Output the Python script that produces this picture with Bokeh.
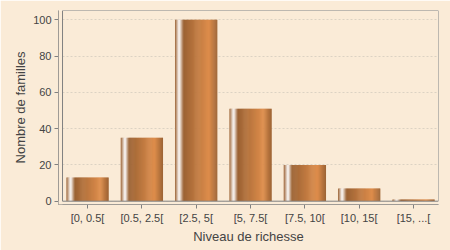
from bokeh.plotting import figure
from bokeh.models import ColumnDataSource, LinearAxis, FixedTicker, Range1d, Grid, BoxAnnotation
from bokeh.transform import dodge
from bokeh.embed import file_html
from bokeh.resources import INLINE

categories = ["[0, 0.5[", "[0.5, 2.5[", "[2.5, 5[", "[5, 7.5[", "[7.5, 10[", "[10, 15[", "[15, ...["]
families = [13, 35, 100, 51, 20, 7, 1]
y_ticks = [0, 20, 40, 60, 80, 100]

idx = list(range(len(categories)))
src = ColumnDataSource(dict(idx=idx, count=families))

BG = "#FAEBD7"
AXC = "#808080"
TXT = "#444444"
FONT = "Liberation Sans"

X0, X1 = -0.534, len(categories) - 1 + 0.46
BOX_L = -0.46
Y0, Y1 = -1.82, 105.13

p = figure(width=450, height=250, output_backend="svg", toolbar_location=None,
           x_range=Range1d(X0, X1), y_range=Range1d(Y0, Y1),
           x_axis_location=None, y_axis_location=None,
           min_border_left=58, min_border_right=12, min_border_top=10, min_border_bottom=46,
           background_fill_color=BG, border_fill_color=BG)
p.outline_line_color = None
p.center = []

grid = Grid(dimension=1, ticker=FixedTicker(ticks=y_ticks), grid_line_color="#DCD2C3",
            grid_line_dash="2 2", grid_line_width=1)
p.add_layout(grid)


def style(ax):
    ax.axis_line_color = AXC
    ax.major_tick_line_color = AXC
    ax.major_tick_in = 0
    ax.major_tick_out = 4
    ax.minor_tick_line_color = None
    ax.major_label_standoff = 3
    ax.major_label_text_font = FONT
    ax.major_label_text_font_size = "11px"
    ax.major_label_text_color = TXT
    ax.axis_label_text_font = FONT
    ax.axis_label_text_font_size = "13px"
    ax.axis_label_text_font_style = "normal"
    ax.axis_label_text_color = TXT
    ax.axis_label_standoff = 2


yaxis = LinearAxis(ticker=FixedTicker(ticks=y_ticks), axis_label="Nombre de familles")
style(yaxis)
p.add_layout(yaxis, "left")

xaxis = LinearAxis(ticker=FixedTicker(ticks=idx), axis_label="Niveau de richesse",
                   major_label_overrides={i: c for i, c in zip(idx, categories)})
style(xaxis)
p.add_layout(xaxis, "below")


def grad(t):
    c0 = (155, 98, 52)
    c1 = (222, 141, 75)
    w = (255, 255, 255)
    if t < 0.1:
        a, b, f = c0, w, t / 0.1
    elif t < 0.2:
        a, b, f = w, c0, (t - 0.1) / 0.1
    elif t < 0.8:
        a, b, f = c0, c1, (t - 0.2) / 0.6
    else:
        a, b, f = c1, c0, (t - 0.8) / 0.2
    return "#%02x%02x%02x" % tuple(int(round(a[i] + (b[i] - a[i]) * f)) for i in range(3))


BAR_W = 0.78
N = 40
sw = BAR_W / N
for k in range(N):
    t = (k + 0.5) / N
    l = -BAR_W / 2 + k * sw
    r = -BAR_W / 2 + (k + 1) * sw + (sw * 0.5 if k < N - 1 else 0)
    p.quad(left=dodge("idx", l), right=dodge("idx", r), top="count", bottom=0,
           source=src, fill_color=grad(t), line_color=None)

# gaps between the axis lines and the plot box, then the plot box itself
p.add_layout(BoxAnnotation(left=X0, right=BOX_L, bottom=Y0, top=Y1,
                           fill_color=BG, fill_alpha=1, line_color=None))
p.add_layout(BoxAnnotation(left=X0, right=X1, bottom=Y0, top=0,
                           fill_color=BG, fill_alpha=1, line_color=None))
p.add_layout(BoxAnnotation(left=BOX_L, right=X1, bottom=0, top=Y1,
                           fill_alpha=0, line_color=AXC, line_width=1, line_alpha=1))

open("out.html", "w").write(file_html(p, INLINE))
